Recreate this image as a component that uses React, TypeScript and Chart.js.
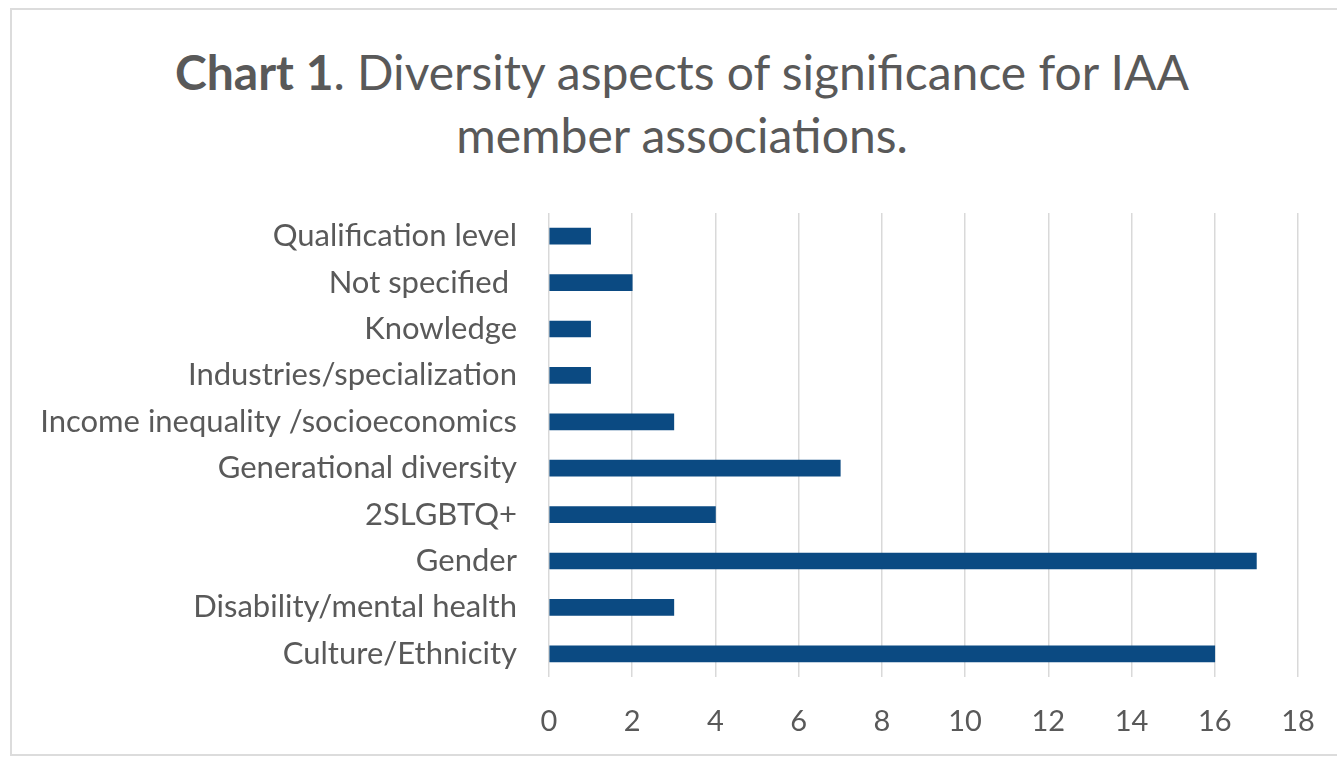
import React, { useEffect, useRef } from "react";
import { Chart, registerables } from "chart.js";

Chart.register(...registerables);

const categories: string[] = [
  "Qualification level",
  "Not specified ",
  "Knowledge",
  "Industries/specialization",
  "Income inequality /socioeconomics",
  "Generational diversity",
  "2SLGBTQ+",
  "Gender",
  "Disability/mental health",
  "Culture/Ethnicity",
];
const counts: number[] = [1, 2, 1, 1, 3, 7, 4, 17, 3, 16];
const xMin = 0;
const xMax = 18;
const xStep = 2;

const FONT = "Lato, 'Open Sans', sans-serif";
const TEXT = "#595959";

export default function App() {
  const ref = useRef<HTMLCanvasElement | null>(null);

  useEffect(() => {
    if (!ref.current) return;
    const chart = new Chart(ref.current, {
      type: "bar",
      data: {
        labels: categories,
        datasets: [
          {
            data: counts,
            backgroundColor: "#0B4A82",
            barThickness: 16,
          },
        ],
      },
      options: {
        indexAxis: "y",
        animation: false,
        responsive: false,
        devicePixelRatio: 1,
        layout: { padding: { top: 213, right: 39, bottom: 0, left: 0 } },
        plugins: {
          legend: { display: false },
          tooltip: { enabled: false },
          title: { display: false },
        },
        scales: {
          x: {
            min: xMin,
            max: xMax,
            ticks: {
              stepSize: xStep,
              color: TEXT,
              font: { family: FONT, size: 29 },
              padding: 27,
            },
            grid: { color: "#d9d9d9", lineWidth: 1.5, drawTicks: false },
            border: { display: false },
            afterFit: (s: any) => {
              s.height = 80;
              s.paddingRight = 0;
              s.paddingLeft = 0;
            },
          },
          y: {
            ticks: {
              color: TEXT,
              font: { family: FONT, size: 31 },
              padding: 32,
            },
            grid: { display: false, drawTicks: false },
            border: { display: false },
            afterFit: (s: any) => {
              s.width = 549;
            },
          },
        },
      },
    });
    return () => chart.destroy();
  }, []);

  return (
    <div
      style={{
        position: "fixed",
        left: 0,
        top: 0,
        width: 1337,
        height: 757,
        background: "#fff",
        overflow: "hidden",
      }}
    >
      <div
        style={{
          position: "absolute",
          left: 10,
          top: 8,
          width: 1500,
          height: 748,
          borderTop: "2px solid #dcdcdc",
          borderLeft: "2px solid #dcdcdc",
          borderBottom: "2px solid #dcdcdc",
          borderRight: "none",
          boxSizing: "border-box",
        }}
      />
      <div
        style={{
          position: "absolute",
          left: 11,
          top: 40,
          width: 1342,
          textAlign: "center",
          fontFamily: FONT,
          fontSize: 48,
          lineHeight: "63px",
          color: TEXT,
          whiteSpace: "nowrap",
        }}
      >
        <b>Chart 1</b>. Diversity aspects of significance for IAA
        <br />
        member associations.
      </div>
      <canvas
        ref={ref}
        width={1337}
        height={757}
        style={{ position: "absolute", left: 0, top: 0 }}
      />
    </div>
  );
}
